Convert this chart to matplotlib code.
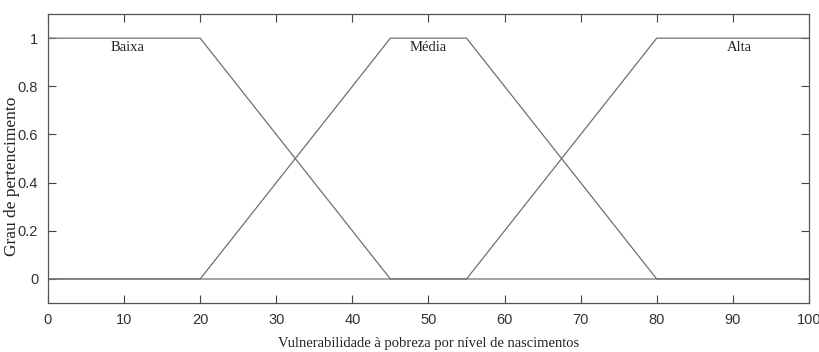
import matplotlib
matplotlib.use("Agg")
import matplotlib.pyplot as plt

# membership functions (trapezoids)
baixa_x = [0, 20, 45, 100]
baixa_y = [1, 1, 0, 0]
media_x = [0, 20, 45, 55, 80, 100]
media_y = [0, 0, 1, 1, 0, 0]
alta_x = [0, 55, 80, 100]
alta_y = [0, 0, 1, 1]

labels = ["Baixa", "Média", "Alta"]
label_x = [10.5, 50, 90.9]
label_y = [0.962, 0.962, 0.962]

fig = plt.figure(figsize=(8.2, 3.52), dpi=100)
ax = fig.add_axes([0.0585, 0.139, 0.928, 0.821])

for xs, ys in [(baixa_x, baixa_y), (media_x, media_y), (alta_x, alta_y)]:
    ax.plot(xs, ys, color="#707070", lw=0.9)

for t, x, y in zip(labels, label_x, label_y):
    ax.text(x, y, t, ha="center", va="center", fontsize=10.5,
            family="Liberation Serif", color="#222222")

ax.set_xlim(0, 100)
ax.set_ylim(-0.1, 1.1)
ax.set_xticks(range(0, 101, 10))
ax.set_yticks([0, 0.2, 0.4, 0.6, 0.8, 1])
ax.set_yticklabels(["0", "0.2", "0.4", "0.6", "0.8", "1"])
ax.tick_params(direction="in", top=True, right=True, length=6, width=0.8,
               labelsize=10.5, colors="#444444", labelcolor="#333333", pad=7)
for lab in ax.get_xticklabels() + ax.get_yticklabels():
    lab.set_family("Liberation Sans")
for s in ax.spines.values():
    s.set_color("#555555")
    s.set_linewidth(0.9)

ax.set_xlabel("Vulnerabilidade à pobreza por nível de nascimentos",
              family="Liberation Serif", fontsize=10.5, color="#222222", labelpad=7)
ax.set_ylabel("Grau de pertencimento", family="Liberation Serif",
              fontsize=12.5, color="#222222")
ax.yaxis.set_label_coords(-0.037, 0.44)

fig.savefig("out.png", dpi=100)
